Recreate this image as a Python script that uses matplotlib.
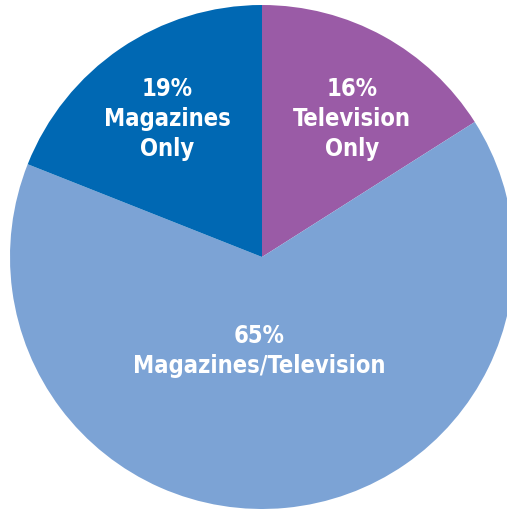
"""Pie chart: share of audience by media channel."""
import matplotlib
matplotlib.use("Agg")
import matplotlib.pyplot as plt

labels = ["Television\nOnly", "Magazines/Television", "Magazines\nOnly"]
shares = [16, 65, 19]
colors = ["#9A5BA6", "#7CA3D5", "#0068B3"]

W, H = 507, 510
fig = plt.figure(figsize=(W / 100, H / 100), dpi=100)
ax = fig.add_axes([0, 0, 1, 1])

cx, cy, r = 262, H - 258, 252
ax.pie(shares, colors=colors, startangle=90, counterclock=False,
       center=(cx, cy), radius=r, frame=True, wedgeprops=dict(linewidth=0))
ax.set_xlim(0, W)
ax.set_ylim(0, H)
ax.axis("off")

font = dict(family=["DejaVu Sans"], stretch="condensed", weight="bold",
            color="white", fontsize=17, ha="center", va="center", linespacing=1.33)
label_pos = [(352, 119), (259, 351), (167, 119)]
for lab, val, (x, y) in zip(labels, shares, label_pos):
    ax.text(x, H - y, f"{val}%\n{lab}", **font)

fig.savefig("out.png", dpi=100)
